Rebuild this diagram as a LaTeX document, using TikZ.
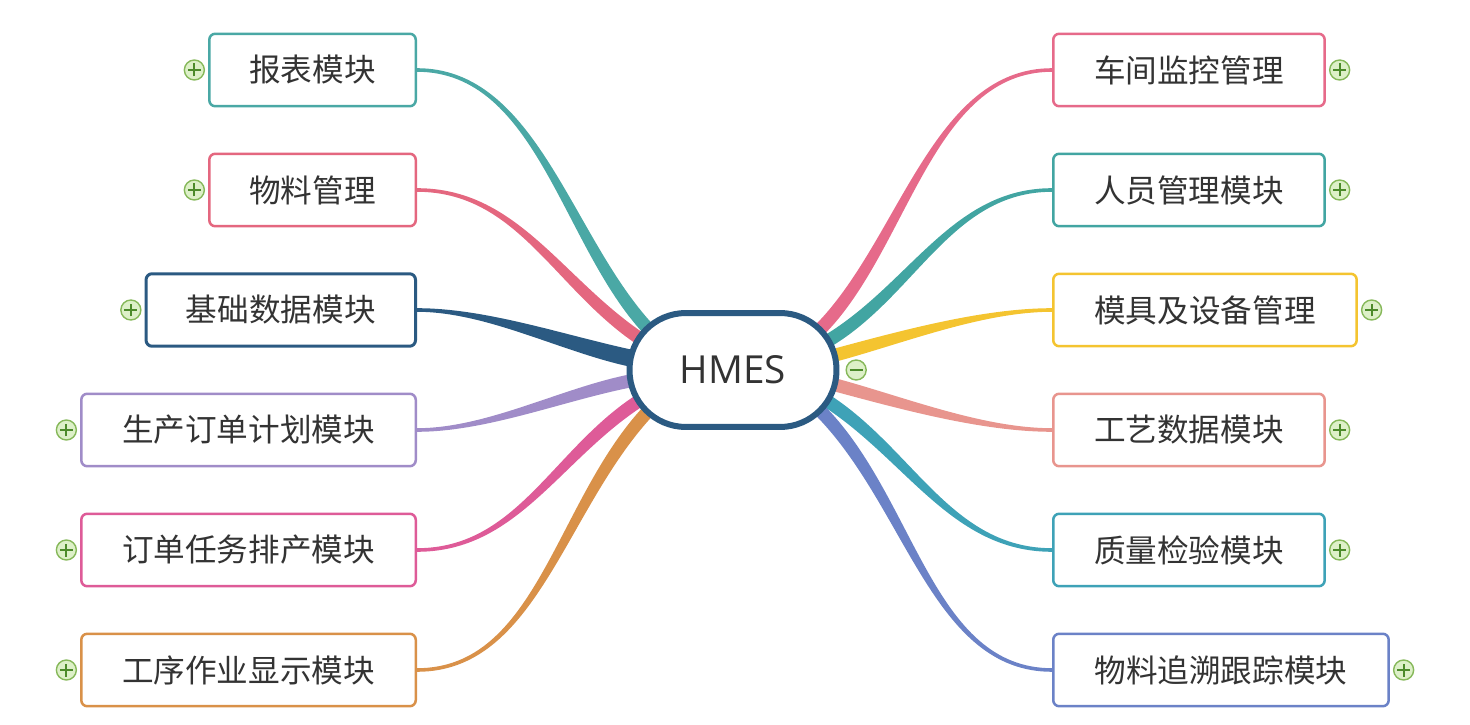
\documentclass[tikz,border=0pt]{standalone}
\usepackage{fontspec}
\setmainfont{Noto Sans CJK SC}
\newfontfamily\latinfont{Open Sans}
\usetikzlibrary{positioning,calc,backgrounds}

\definecolor{txt}{HTML}{333333}
\definecolor{cRep}{HTML}{4AA8A5}
\definecolor{cMat}{HTML}{E4677F}
\definecolor{cBase}{HTML}{2B5A82}
\definecolor{cPlan}{HTML}{A08CC8}
\definecolor{cTask}{HTML}{DE5B98}
\definecolor{cProc}{HTML}{D99149}
\definecolor{cMon}{HTML}{E66A8A}
\definecolor{cStaff}{HTML}{42A5A2}
\definecolor{cMold}{HTML}{F4C430}
\definecolor{cTech}{HTML}{E8958E}
\definecolor{cQual}{HTML}{3EA2B7}
\definecolor{cTrace}{HTML}{6B82C7}
\definecolor{iconfill}{HTML}{DDF0C8}
\definecolor{iconline}{HTML}{86B85A}
\definecolor{iconmark}{HTML}{4C8A2A}

% tapered branch: colour, box anchor, arc centre, angle, start handle, end half-width, end handle
\newcommand\branch[7]{%
  \pgfmathsetmacro\brA{#4+90}%
  \pgfmathsetmacro\brB{#4-90}%
  \pgfmathsetmacro\brR{56+#7}%
  \fill[#1] ($(#2)+(0,1.8)$) .. controls +(#5,0) and ($(#3)+(#4:\brR)+(\brA:#6)$) .. ($(#3)+(#4:56)+(\brA:#6)$)
    -- ($(#3)+(#4:56)+(\brB:#6)$) .. controls ($(#3)+(#4:\brR)+(\brB:#6)$) and ($(#2)+(#5,-1.8)$) .. ($(#2)+(0,-1.8)$) -- cycle;
}

\begin{document}
\begin{tikzpicture}[x=0.02cm, y=0.02cm,
  every node/.style={font=\fontsize{18}{22}\selectfont, text=txt},
  leaf/.style={draw, fill=white, rounded corners=0.12cm, line width=0.05cm, minimum height=1.45cm, inner sep=0},
  hub/.style={draw=cBase, fill=white, line width=0.12cm, rounded corners=1.13cm, minimum width=4.14cm, minimum height=2.28cm, font=\fontsize{22}{26}\selectfont\latinfont},
  plusicon/.style={circle, draw=iconline, fill=iconfill, line width=0.8pt, minimum size=0.4cm, inner sep=0,
    path picture={\draw[iconmark, line width=1.1pt] ([xshift=0.07cm]path picture bounding box.west) -- ([xshift=-0.07cm]path picture bounding box.east)
      ([yshift=0.07cm]path picture bounding box.south) -- ([yshift=-0.07cm]path picture bounding box.north);}},
  minusicon/.style={circle, draw=iconline, fill=iconfill, line width=0.8pt, minimum size=0.4cm, inner sep=0,
    path picture={\draw[iconmark, line width=1.1pt] ([xshift=0.07cm]path picture bounding box.west) -- ([xshift=-0.07cm]path picture bounding box.east);}}]
\useasboundingbox (0,0) rectangle (1470,724);

\node[hub] (hmes) at (733,354) {HMES};
\coordinate (hl) at ([xshift=-0.93cm]hmes.center);
\coordinate (hr) at ([xshift=0.93cm]hmes.center);
\node[minusicon, right=0.12cm of hmes] (hmesx) {};

% left side
\node[leaf, draw=cRep, minimum width=4.13cm, anchor=east] (rep) at (417,654) {报表模块};
\node[leaf, draw=cMat, minimum width=4.13cm, anchor=east] (mat) at (417,534) {物料管理};
\node[leaf, draw=cBase, line width=0.06cm, minimum width=5.39cm, anchor=east] (base) at (417,414) {基础数据模块};
\node[leaf, draw=cPlan, minimum width=6.69cm, anchor=east] (plan) at (417,294) {生产订单计划模块};
\node[leaf, draw=cTask, minimum width=6.69cm, anchor=east] (task) at (417,174) {订单任务排产模块};
\node[leaf, draw=cProc, minimum width=6.69cm, anchor=east] (proc) at (417,54) {工序作业显示模块};

% right side
\node[leaf, draw=cMon, minimum width=5.43cm, anchor=west] (mon) at (1052,654) {车间监控管理};
\node[leaf, draw=cStaff, minimum width=5.43cm, anchor=west] (staff) at (1052,534) {人员管理模块};
\node[leaf, draw=cMold, minimum width=6.07cm, anchor=west] (mold) at (1052,414) {模具及设备管理};
\node[leaf, draw=cTech, minimum width=5.43cm, anchor=west] (tech) at (1052,294) {工艺数据模块};
\node[leaf, draw=cQual, minimum width=5.43cm, anchor=west] (qual) at (1052,174) {质量检验模块};
\node[leaf, draw=cTrace, minimum width=6.71cm, anchor=west] (trace) at (1052,54) {物料追溯跟踪模块};

\foreach \n in {rep,mat,base,plan,task,proc}
  \node[plusicon, left=0.06cm of \n] (\n x) {};
\foreach \n in {mon,staff,mold,tech,qual,trace}
  \node[plusicon, right=0.06cm of \n] (\n x) {};

\begin{scope}[on background layer]
\branch{cRep}{rep.east}{hl}{133}{120}{-6.5}{120}
\branch{cMat}{mat.east}{hl}{146}{100}{-6.5}{100}
\branch{cBase}{base.east}{hl}{168}{70}{-8.5}{70}
\branch{cPlan}{plan.east}{hl}{191}{70}{-6.5}{70}
\branch{cTask}{task.east}{hl}{213}{100}{-6.5}{100}
\branch{cProc}{proc.east}{hl}{227}{120}{-6.5}{130}
\branch{cMon}{mon.west}{hr}{45}{-120}{6.5}{120}
\branch{cStaff}{staff.west}{hr}{31}{-100}{6.5}{100}
\branch{cMold}{mold.west}{hr}{15}{-70}{6.5}{70}
\branch{cTech}{tech.west}{hr}{-15}{-70}{6.5}{70}
\branch{cQual}{qual.west}{hr}{-33}{-100}{6.5}{100}
\branch{cTrace}{trace.west}{hr}{-45}{-120}{6.5}{130}
\end{scope}
\end{tikzpicture}
\end{document}
